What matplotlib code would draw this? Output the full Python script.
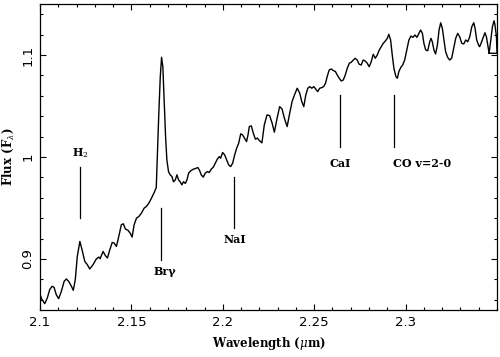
import matplotlib
matplotlib.use("Agg")
import matplotlib.pyplot as plt
from matplotlib.ticker import MultipleLocator

plt.rcParams["mathtext.fontset"] = "dejavuserif"

# spectrum: wavelength (micron) and flux
wavelength = [
    2.1000, 2.1011, 2.1026, 2.1040, 2.1053, 2.1066, 2.1077, 2.1089, 2.1102, 2.1117,
    2.1132, 2.1144, 2.1157, 2.1172, 2.1182, 2.1193, 2.1204, 2.1218, 2.1230, 2.1245,
    2.1259, 2.1272, 2.1290, 2.1308, 2.1322, 2.1329, 2.1345, 2.1358, 2.1369, 2.1382,
    2.1395, 2.1405, 2.1418, 2.1431, 2.1445, 2.1456, 2.1467, 2.1482, 2.1493, 2.1504,
    2.1515, 2.1528, 2.1541, 2.1555, 2.1570, 2.1582, 2.1596, 2.1610, 2.1625, 2.1636,
    2.1643, 2.1650, 2.1658, 2.1665, 2.1672, 2.1679, 2.1687, 2.1694, 2.1703, 2.1712,
    2.1722, 2.1730, 2.1740, 2.1749, 2.1758, 2.1767, 2.1776, 2.1785, 2.1795, 2.1804,
    2.1813, 2.1826, 2.1840, 2.1855, 2.1864, 2.1874, 2.1882, 2.1893, 2.1904, 2.1915,
    2.1926, 2.1937, 2.1948, 2.1959, 2.1970, 2.1981, 2.1988, 2.1999, 2.2010, 2.2021,
    2.2032, 2.2043, 2.2054, 2.2065, 2.2076, 2.2087, 2.2098, 2.2108, 2.2119, 2.2130,
    2.2138, 2.2145, 2.2156, 2.2167, 2.2178, 2.2189, 2.2200, 2.2214, 2.2227, 2.2242,
    2.2256, 2.2270, 2.2282, 2.2297, 2.2311, 2.2324, 2.2337, 2.2352, 2.2366, 2.2379,
    2.2392, 2.2407, 2.2421, 2.2432, 2.2443, 2.2454, 2.2465, 2.2476, 2.2487, 2.2498,
    2.2509, 2.2519, 2.2530, 2.2541, 2.2552, 2.2562, 2.2571, 2.2582, 2.2593, 2.2604,
    2.2616, 2.2626, 2.2637, 2.2648, 2.2659, 2.2670, 2.2681, 2.2692, 2.2703, 2.2714,
    2.2724, 2.2735, 2.2746, 2.2757, 2.2768, 2.2779, 2.2790, 2.2801, 2.2812, 2.2823,
    2.2834, 2.2845, 2.2856, 2.2867, 2.2878, 2.2889, 2.2900, 2.2908, 2.2918, 2.2927,
    2.2936, 2.2947, 2.2955, 2.2963, 2.2973, 2.2984, 2.2995, 2.3009, 2.3018, 2.3029,
    2.3040, 2.3051, 2.3062, 2.3073, 2.3082, 2.3092, 2.3100, 2.3110, 2.3121, 2.3132,
    2.3139, 2.3146, 2.3155, 2.3164, 2.3174, 2.3183, 2.3192, 2.3201, 2.3210, 2.3219,
    2.3230, 2.3241, 2.3252, 2.3263, 2.3274, 2.3285, 2.3296, 2.3307, 2.3318, 2.3329,
    2.3340, 2.3351, 2.3362, 2.3373, 2.3380, 2.3389, 2.3399, 2.3405, 2.3416, 2.3426,
    2.3434, 2.3442, 2.3451, 2.3457, 2.3466, 2.3475, 2.3484, 2.3489, 2.3497, 2.3500,
    2.3457,
]
flux = [
    0.8650, 0.8602, 0.8562, 0.8618, 0.8699, 0.8732, 0.8722, 0.8650, 0.8611, 0.8683,
    0.8781, 0.8804, 0.8781, 0.8732, 0.8693, 0.8797, 0.9025, 0.9172, 0.9091, 0.8976,
    0.8944, 0.8902, 0.8944, 0.9000, 0.9019, 0.9003, 0.9074, 0.9032, 0.9010, 0.9091,
    0.9162, 0.9157, 0.9123, 0.9221, 0.9336, 0.9345, 0.9294, 0.9280, 0.9254, 0.9215,
    0.9336, 0.9401, 0.9417, 0.9450, 0.9499, 0.9515, 0.9549, 0.9597, 0.9653, 0.9700,
    1.0070, 1.0429, 1.0788, 1.0977, 1.0885, 1.0559, 1.0200, 0.9972, 0.9857, 0.9825,
    0.9808, 0.9757, 0.9775, 0.9825, 0.9775, 0.9757, 0.9727, 0.9757, 0.9741, 0.9775,
    0.9842, 0.9867, 0.9881, 0.9891, 0.9896, 0.9864, 0.9825, 0.9803, 0.9842, 0.9857,
    0.9848, 0.9881, 0.9900, 0.9939, 0.9979, 1.0004, 0.9988, 1.0044, 1.0021, 0.9972,
    0.9923, 0.9906, 0.9940, 1.0021, 1.0087, 1.0136, 1.0227, 1.0217, 1.0185, 1.0151,
    1.0217, 1.0298, 1.0305, 1.0233, 1.0175, 1.0185, 1.0161, 1.0139, 1.0315, 1.0413,
    1.0406, 1.0331, 1.0243, 1.0380, 1.0494, 1.0471, 1.0380, 1.0298, 1.0429, 1.0543,
    1.0608, 1.0674, 1.0625, 1.0543, 1.0494, 1.0608, 1.0674, 1.0690, 1.0674, 1.0690,
    1.0664, 1.0641, 1.0674, 1.0680, 1.0690, 1.0723, 1.0788, 1.0853, 1.0863, 1.0848,
    1.0838, 1.0804, 1.0772, 1.0745, 1.0755, 1.0804, 1.0870, 1.0919, 1.0929, 1.0951,
    1.0968, 1.0951, 1.0909, 1.0902, 1.0951, 1.0941, 1.0919, 1.0885, 1.0934, 1.1007,
    1.0968, 1.1000, 1.1049, 1.1081, 1.1115, 1.1137, 1.1163, 1.1203, 1.1147, 1.1000,
    1.0870, 1.0788, 1.0772, 1.0837, 1.0876, 1.0902, 1.0951, 1.1068, 1.1147, 1.1186,
    1.1173, 1.1196, 1.1173, 1.1212, 1.1245, 1.1212, 1.1115, 1.1049, 1.1042, 1.1130,
    1.1163, 1.1130, 1.1049, 1.1010, 1.1098, 1.1245, 1.1316, 1.1261, 1.1147, 1.1032,
    1.0977, 1.0951, 1.0968, 1.1066, 1.1163, 1.1212, 1.1179, 1.1115, 1.1108, 1.1147,
    1.1130, 1.1179, 1.1277, 1.1316, 1.1261, 1.1147, 1.1098, 1.1081, 1.1130, 1.1179,
    1.1218, 1.1179, 1.1081, 1.1017, 1.1147, 1.1277, 1.1336, 1.1294, 1.1179, 1.1017,
    1.1017,
]

# line identifications: marker position, marker extent, label position
line_names = ["H$_2$", "Brγ", "NaI", "CaI", "CO v=2-0"]
line_wl = [2.1219, 2.1663, 2.2059, 2.2640, 2.2936]
line_top = [0.9904, 0.9500, 0.9806, 1.0605, 1.0605]
line_bottom = [0.9404, 0.8993, 0.9303, 1.0102, 1.0102]
label_wl = [2.1222, 2.1685, 2.2068, 2.2640, 2.3090]
label_flux = [1.0035, 0.8880, 0.9190, 0.9940, 0.9940]

fig = plt.figure(figsize=(5, 3.57), dpi=100)
ax = fig.add_axes([0.08, 0.1317, 0.914, 0.8571])

ax.plot(wavelength, flux, color="black", lw=1.0)

for wl, top, bot in zip(line_wl, line_top, line_bottom):
    ax.plot([wl, wl], [bot, top], color="black", lw=0.9)
for name, x, y in zip(line_names, label_wl, label_flux):
    ax.text(x, y, name, ha="center", va="center", fontsize=8,
            family="DejaVu Serif", fontweight="bold")

ax.set_xlim(2.1, 2.35)
ax.set_ylim(0.85, 1.15)
ax.xaxis.set_minor_locator(MultipleLocator(0.01))
ax.yaxis.set_minor_locator(MultipleLocator(0.02))
ax.set_xticks([2.1, 2.15, 2.2, 2.25, 2.3])
ax.set_xticklabels(["2.1", "2.15", "2.2", "2.25", "2.3"])
ax.set_yticks([0.9, 1.0, 1.1])
ax.set_yticklabels(["0.9", "1", "1.1"], rotation=90, va="center")

ax.tick_params(which="both", direction="in", top=True, right=True, width=0.8,
               labelsize=9.5)
ax.tick_params(which="major", length=4.5, pad=4)
ax.tick_params(which="minor", length=2.5)
for s in ax.spines.values():
    s.set_linewidth(0.9)

ax.set_xlabel("Wavelength ($\\mu$m)", family="DejaVu Serif", fontweight="bold",
              fontsize=8.5, labelpad=5)
ax.set_ylabel("Flux (F$_\\lambda$)", family="DejaVu Serif", fontweight="bold",
              fontsize=8.5, labelpad=4)

fig.savefig("out.png", dpi=100)
